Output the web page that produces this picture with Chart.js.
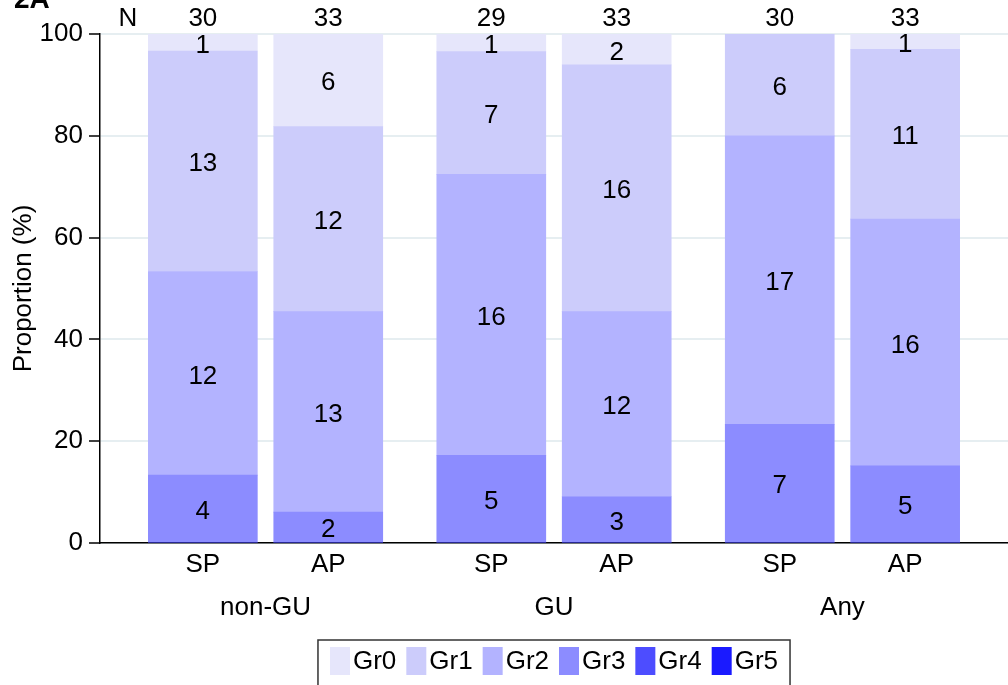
<!DOCTYPE html>
<html>
<head>
<meta charset="utf-8">
<script src="https://cdn.jsdelivr.net/npm/chart.js@4.4.1/dist/chart.umd.min.js"></script>
<style>
  html, body { margin: 0; padding: 0; background: #fff; }
  #wrap { width: 1008px; height: 685px; position: relative; }
</style>
</head>
<body>
<div id="wrap"><canvas id="chart"></canvas></div>
<script>
// categories
const groups = ['non-GU', 'GU', 'Any'];
const arms = ['SP', 'AP', 'SP', 'AP', 'SP', 'AP'];
const slotPos = [1, 2, 3.3, 4.3, 5.6, 6.6];
const totals = [30, 33, 29, 33, 30, 33];

// counts per grade (one value per bar)
const gr0 = [1, 6, 1, 2, 0, 1];
const gr1 = [13, 12, 7, 16, 6, 11];
const gr2 = [12, 13, 16, 12, 17, 16];
const gr3 = [4, 2, 5, 3, 7, 5];
const gr4 = [0, 0, 0, 0, 0, 0];
const gr5 = [0, 0, 0, 0, 0, 0];

const yTicks = [0, 20, 40, 60, 80, 100];

const FONT = '"Liberation Sans", Arial, Helvetica, sans-serif';
const FS = 26;

// bottom of stack first
const series = [
    {label: 'Gr5', counts: gr5, color: '#1a1aff'},
    {label: 'Gr4', counts: gr4, color: '#4d4dff'},
    {label: 'Gr3', counts: gr3, color: '#8c8cff'},
    {label: 'Gr2', counts: gr2, color: '#b3b3ff'},
    {label: 'Gr1', counts: gr1, color: '#ccccfb'},
    {label: 'Gr0', counts: gr0, color: '#e6e6fb'},
];

const datasets = series.map(s => ({
    label: s.label,
    counts: s.counts,
    backgroundColor: s.color,
    borderWidth: 0,
    data: s.counts.map((c, i) => ({x: slotPos[i], y: c / totals[i] * 100})),
}));

// counts inside segments
const segmentLabels = {
    id: 'segmentLabels',
    afterDatasetsDraw(chart) {
        const ctx = chart.ctx;
        ctx.save();
        ctx.font = FS + 'px ' + FONT;
        ctx.fillStyle = '#000';
        ctx.textAlign = 'center';
        ctx.textBaseline = 'middle';
        chart.data.datasets.forEach((ds, di) => {
            chart.getDatasetMeta(di).data.forEach((bar, i) => {
                const c = ds.counts[i];
                if (!c) return;
                ctx.fillText(String(c), bar.x, (bar.y + bar.base) / 2 + 3);
            });
        });
        ctx.restore();
    }
};

// N row, group names, panel tag, legend
const extras = {
    id: 'extras',
    afterDraw(chart) {
        const ctx = chart.ctx;
        const xs = chart.scales.x;
        const area = chart.chartArea;
        ctx.save();
        ctx.fillStyle = '#000';
        ctx.font = FS + 'px ' + FONT;
        ctx.textAlign = 'center';
        ctx.textBaseline = 'middle';
        ctx.fillText('N', area.left + 28, 19);
        totals.forEach((n, i) => ctx.fillText(String(n), xs.getPixelForValue(slotPos[i]), 19));
        groups.forEach((g, gi) => {
            const mid = (slotPos[gi * 2] + slotPos[gi * 2 + 1]) / 2;
            ctx.fillText(g, xs.getPixelForValue(mid), 608);
        });

        // panel tag, cut at the top
        ctx.font = 'bold 28px ' + FONT;
        ctx.textAlign = 'left';
        ctx.textBaseline = 'alphabetic';
        ctx.fillText('2A', 14, 8);

        // legend in a box
        ctx.font = FS + 'px ' + FONT;
        const items = series.slice().reverse();
        const sw = 20, sh = 28, gapTxt = 3, gapItem = 10, padX = 12;
        const widths = items.map(s => ctx.measureText(s.label).width);
        let total = 0;
        widths.forEach((w, i) => { total += sw + gapTxt + w + (i < widths.length - 1 ? gapItem : 0); });
        const boxW = total + padX * 2;
        const boxLeft = (area.left + area.right) / 2 - boxW / 2;
        const boxTop = 640;
        ctx.strokeStyle = '#333';
        ctx.lineWidth = 1.5;
        ctx.strokeRect(boxLeft, boxTop, boxW, 60);
        let x = boxLeft + padX;
        const cy = 661;
        ctx.textBaseline = 'middle';
        items.forEach((s, i) => {
            ctx.fillStyle = s.color;
            ctx.fillRect(x, cy - sh / 2, sw, sh);
            ctx.fillStyle = '#000';
            ctx.fillText(s.label, x + sw + gapTxt, cy + 1);
            x += sw + gapTxt + widths[i] + gapItem;
        });
        ctx.restore();
    }
};

new Chart(document.getElementById('chart'), {
    type: 'bar',
    data: {datasets: datasets},
    plugins: [segmentLabels, extras],
    options: {
        responsive: true,
        maintainAspectRatio: false,
        animation: false,
        layout: {padding: {top: 34, right: 0, left: 0, bottom: 0}},
        datasets: {bar: {barThickness: 109}},
        plugins: {
            legend: {display: false},
            tooltip: {enabled: false},
        },
        scales: {
            x: {
                type: 'linear',
                stacked: true,
                offset: false,
                min: 0.18,
                max: 7.42,
                grid: {display: false},
                border: {color: '#000', width: 1.5},
                afterBuildTicks: s => { s.ticks = slotPos.map(v => ({value: v})); },
                afterFit: s => { s.height = 142; },
                ticks: {
                    autoSkip: false,
                    maxRotation: 0,
                    padding: -2,
                    color: '#000',
                    font: {family: FONT, size: FS},
                    callback: (v, i) => arms[i],
                },
            },
            y: {
                stacked: true,
                min: 0,
                max: 100,
                afterBuildTicks: s => { s.ticks = yTicks.map(v => ({value: v})); },
                afterFit: s => { s.width = 100; },
                grid: {
                    color: '#e6eef1',
                    lineWidth: 2,
                    tickColor: '#000',
                    tickLength: 11,
                    tickWidth: 1.5,
                },
                border: {color: '#000', width: 1.5},
                ticks: {
                    padding: 6,
                    color: '#000',
                    font: {family: FONT, size: FS},
                },
                title: {
                    display: true,
                    text: 'Proportion (%)',
                    color: '#000',
                    font: {family: FONT, size: FS},
                    padding: {top: 8, bottom: 0},
                },
            },
        },
    },
});
</script>
</body>
</html>
